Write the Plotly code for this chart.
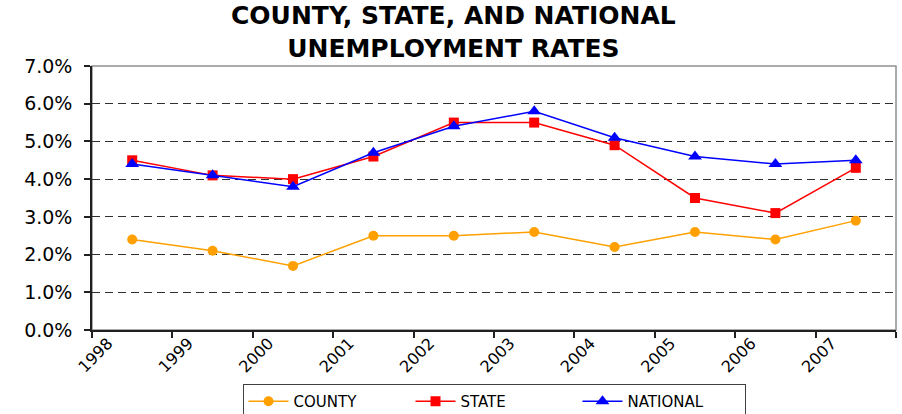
import plotly.graph_objects as go

years = ["1998", "1999", "2000", "2001", "2002", "2003", "2004", "2005", "2006", "2007"]
county = [2.4, 2.1, 1.7, 2.5, 2.5, 2.6, 2.2, 2.6, 2.4, 2.9]
state = [4.5, 4.1, 4.0, 4.6, 5.5, 5.5, 4.9, 3.5, 3.1, 4.3]
national = [4.4, 4.1, 3.8, 4.7, 5.4, 5.8, 5.1, 4.6, 4.4, 4.5]
y_ticks = [0, 1, 2, 3, 4, 5, 6, 7]
title_text = "COUNTY, STATE, AND NATIONAL<br>UNEMPLOYMENT RATES"

idx = list(range(len(years)))
FONT = "DejaVu Sans"

fig = go.Figure()
fig.add_trace(go.Scatter(x=idx, y=county, name="COUNTY", mode="lines+markers",
                         line=dict(color="#FFA000", width=1.5),
                         marker=dict(symbol="circle", size=10, color="#FFA000")))
fig.add_trace(go.Scatter(x=idx, y=state, name="STATE", mode="lines+markers",
                         line=dict(color="#FF0000", width=1.5),
                         marker=dict(symbol="square", size=10, color="#FF0000")))
fig.add_trace(go.Scatter(x=idx, y=national, name="NATIONAL", mode="lines+markers",
                         line=dict(color="#0000FF", width=1.5),
                         marker=dict(symbol="triangle-up", size=12, color="#0000FF")))

fig.update_layout(
    width=902, height=414,
    margin=dict(l=92, r=6, t=66, b=84, autoexpand=False),
    paper_bgcolor="white", plot_bgcolor="white",
    font=dict(family=FONT, color="black"),
    showlegend=True,
    legend=dict(orientation="h", x=(494 - 92) / 804, xanchor="center",
                y=-(384 - 330) / 264, yanchor="top",
                bordercolor="#404040", borderwidth=1, bgcolor="white",
                font=dict(family=FONT, size=15), itemwidth=40,
                entrywidth=112, entrywidthmode="pixels",
                traceorder="normal"),
    shapes=[dict(type="rect", xref="x domain", yref="y domain", x0=0, x1=1, y0=0, y1=1,
                 line=dict(color="#909090", width=1.5), layer="below")],
    annotations=[
        dict(text=f"<b>{title_text}</b>", xref="paper", yref="paper",
             x=(453 - 92) / 804, y=(330 - 32) / 264, xanchor="center", yanchor="middle",
             showarrow=False, font=dict(family=FONT, size=25, color="black")),
    ],
)

fig.update_xaxes(
    range=[-0.5, len(years) - 0.5],
    automargin=False,
    tickmode="array",
    tickvals=[i - 0.3 for i in idx],
    ticktext=years,
    tickangle=-45,
    ticks="",
    ticklabelstandoff=-4,
    tickfont=dict(family=FONT, size=16),
    showgrid=False, zeroline=False,
    showline=True, linecolor="#202020", linewidth=1.5,
    minor=dict(tickmode="array", tickvals=[i - 0.5 for i in range(len(years) + 1)],
               ticks="outside", ticklen=6, tickcolor="#202020", tickwidth=1.5, showgrid=False),
)
fig.update_yaxes(
    range=[0, 7],
    automargin=False,
    tickmode="array",
    tickvals=y_ticks,
    ticktext=[f"{v:.1f}%" for v in y_ticks],
    ticks="outside", ticklen=6, tickcolor="#202020", tickwidth=1.5,
    ticklabelstandoff=8,
    tickfont=dict(family=FONT, size=19),
    showgrid=True, gridcolor="#303030", griddash="8px,5px", gridwidth=1,
    zeroline=False,
    showline=True, linecolor="#202020", linewidth=1.5,
)

fig.write_html("out.html", config={"displayModeBar": False},
               post_script="document.body.style.margin='0px';")
